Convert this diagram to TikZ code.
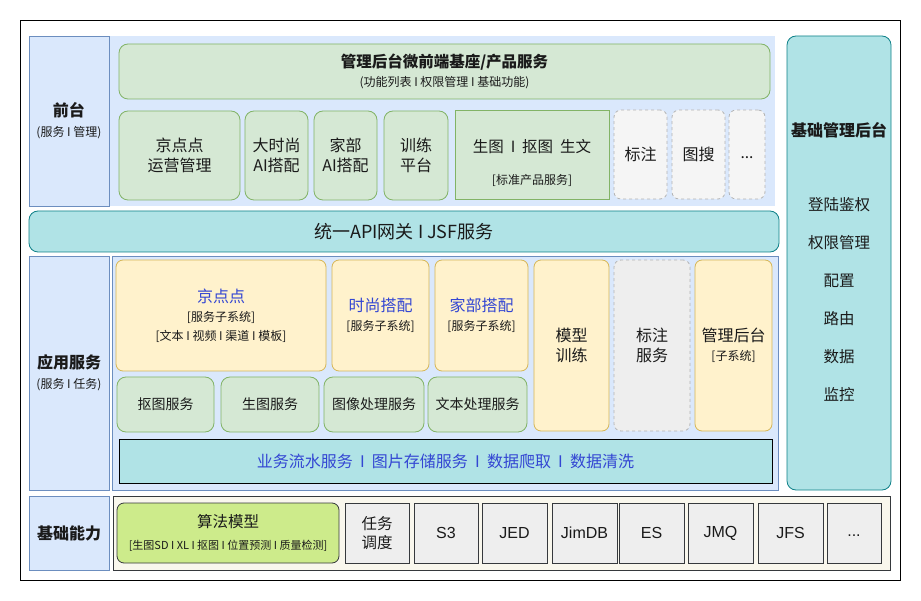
\documentclass[tikz,border=0pt]{standalone}
\usepackage{fontspec}
\setmainfont{Noto Sans CJK SC}
\newfontfamily\latinsf{Liberation Sans}
\definecolor{bluefill}{HTML}{DAE8FC}
\definecolor{blueline}{HTML}{6C8EBF}
\definecolor{greenfill}{HTML}{D5E8D4}
\definecolor{greenline}{HTML}{82B366}
\definecolor{tealfill}{HTML}{B0E3E6}
\definecolor{tealline}{HTML}{0E8088}
\definecolor{yellowfill}{HTML}{FFF2CC}
\definecolor{yellowline}{HTML}{D6B656}
\definecolor{greyfill}{HTML}{EEEEEE}
\definecolor{lightgrey}{HTML}{F5F5F5}
\definecolor{dashline}{HTML}{B3B3B3}
\definecolor{beige}{HTML}{F9F7ED}
\definecolor{darkline}{HTML}{36393D}
\definecolor{limefill}{HTML}{CDEB8B}
\definecolor{linkblue}{HTML}{3346D3}
\definecolor{ink}{HTML}{1A1A1A}
\newcommand{\txtXL}{\fontsize{18}{22}\selectfont}
\newcommand{\txtL}{\fontsize{16}{20}\selectfont}
\newcommand{\txtM}{\fontsize{15.5}{19}\selectfont}
\newcommand{\txtN}{\fontsize{14}{17}\selectfont}
\newcommand{\txtS}{\fontsize{12}{16}\selectfont}
\newcommand{\txtXS}{\fontsize{11}{14}\selectfont}
\tikzset{
  box/.style={inner sep=0pt, align=center, text=ink, font=\txtM, line width=0.8pt},
  layer/.style={box, fill=bluefill, draw=blueline},
  green/.style={box, fill=greenfill, draw=greenline, rounded corners=9pt},
  teal/.style={box, fill=tealfill, draw=tealline, rounded corners=9pt},
  yellow/.style={box, fill=yellowfill, draw=yellowline, rounded corners=7pt},
  dashbox/.style={box, fill=lightgrey, draw=dashline, dashed, rounded corners=7pt},
  infra/.style={box, fill=greyfill, draw=darkline, minimum width=65pt, minimum height=60pt,
                font=\latinsf\fontsize{16}{19}\selectfont},
  free/.style={inner sep=0pt, align=center, text=ink}
}
\begin{document}
\begin{tikzpicture}[x=1pt,y=-1pt]
\useasboundingbox (0,0) rectangle (921,601);
\node[draw=black, line width=1pt, minimum width=879.5pt, minimum height=559pt] (frame) at (460.25,300.5) {};

% left column
\node[layer, minimum width=80pt, minimum height=170pt] (qiantai) at (69,121)
     {{\txtL\bfseries 前台}\\[1pt]{\txtS (服务 I 管理)}};
\node[layer, minimum width=80pt, minimum height=234pt] (yingyong) at (69,373)
     {{\txtL\bfseries 应用服务}\\[1pt]{\txtS (服务 I 任务)}};
\node[layer, minimum width=80pt, minimum height=74pt] (jichu) at (69,533)
     {\txtL\bfseries 基础能力};

% front layer
\node[box, fill=bluefill, minimum width=665pt, minimum height=170pt] (front) at (442.5,121) {};
\node[green, minimum width=651pt, minimum height=55pt] (weiqian) at (444.5,71.5)
     {{\bfseries 管理后台微前端基座/产品服务}\\{\txtS (功能列表 I 权限管理 I 基础功能)}};
\node[green, font=\txtL, minimum width=121pt, minimum height=89pt] (jddyy) at (179.5,155.5) {京点点\\运营管理};
\node[green, font=\txtL, minimum width=63pt, minimum height=89pt] (dss) at (276.5,155.5) {大时尚\\AI搭配};
\node[green, font=\txtL, minimum width=63pt, minimum height=89pt] (jbai) at (345.5,155.5) {家部\\AI搭配};
\node[green, font=\txtL, minimum width=64pt, minimum height=89pt] (xlpt) at (416,155.5) {训练\\平台};
\node[box, fill=greenfill, draw=greenline, minimum width=154pt, minimum height=89pt] (biaozhun) at (532,154.5)
     {\rule{0pt}{30pt}生图 \ I \ 抠图 \ 生文\\[13pt]{\txtS [标准产品服务]}};
\node[dashbox, font=\txtL, minimum width=53pt, minimum height=89pt] (biaozhu) at (640.5,154.5) {标注};
\node[dashbox, font=\txtL, minimum width=53pt, minimum height=89pt] (tusou) at (698.5,154.5) {图搜};
\node[dashbox, minimum width=36pt, minimum height=89pt] (more1) at (747,154.5) {\strut...};

% right column
\node[teal, minimum width=104pt, minimum height=454pt] (guanli) at (839,263) {};
\node[free, font=\txtL\bfseries] (guanli-t) at (839,130) {基础管理后台};
\node[free, font=\fontsize{15.5}{38}\selectfont] (guanli-l) at (839,300)
     {登陆鉴权\\权限管理\\配置\\路由\\数据\\监控};

% gateway
\node[teal, font=\txtXL, minimum width=750pt, minimum height=41pt] (gateway) at (404,231.5) {统一API网关 I JSF服务};

% application layer
\node[layer, minimum width=666pt, minimum height=234pt] (app) at (445,373) {};
\node[yellow, minimum width=210pt, minimum height=111pt] (jdd) at (221,315.5)
     {{\txtL\color{linkblue}京点点}\\{\txtS [服务子系统]}\\{\txtS [文本 I 视频 I 渠道 I 模板]}};
\node[yellow, minimum width=97pt, minimum height=111pt] (ssdp) at (380.5,315.5)
     {{\txtL\color{linkblue}时尚搭配}\\{\txtS [服务子系统]}};
\node[yellow, minimum width=93pt, minimum height=111pt] (jbdp) at (481.5,315.5)
     {{\txtL\color{linkblue}家部搭配}\\{\txtS [服务子系统]}};
\node[yellow, font=\txtL, minimum width=75pt, minimum height=171pt] (mxxl) at (571.5,345.5) {模型\\训练};
\node[dashbox, font=\txtL, fill=greyfill, minimum width=76pt, minimum height=171pt] (bzfw) at (652,345.5) {标注\\服务};
\node[yellow, minimum width=77pt, minimum height=171pt] (glht) at (733.5,345.5)
     {{\txtL 管理后台}\\{\txtS [子系统]}};
\node[green, font=\txtN, minimum width=97pt, minimum height=55pt] (ktfw) at (165.5,404.5) {抠图服务};
\node[green, font=\txtN, minimum width=98pt, minimum height=55pt] (stfw) at (270,404.5) {生图服务};
\node[green, font=\txtN, minimum width=100pt, minimum height=55pt] (txcl) at (374,404.5) {图像处理服务};
\node[green, font=\txtN, minimum width=99pt, minimum height=55pt] (wbcl) at (477.5,404.5) {文本处理服务};
\node[box, font=\txtL, fill=tealfill, draw=black, minimum width=653pt, minimum height=44pt, text=linkblue] (yewu) at (445.5,461)
     {业务流水服务 \ I \ 图片存储服务 \ I \ 数据爬取 \ I \ 数据清洗};

% base layer
\node[box, fill=beige, draw=darkline, minimum width=777pt, minimum height=74pt] (base) at (501.5,533) {};
\node[box, fill=limefill, draw=darkline, rounded corners=7pt, minimum width=222pt, minimum height=60pt] (suanfa) at (228,533)
     {算法模型\\[3pt]{\txtXS [生图SD I XL I 抠图 I 位置预测 I 质量检测]}};
\node[infra, font=\txtM, minimum width=64pt] (rwdd) at (377,533) {任务\\调度};
\node[infra, minimum width=64pt] (s3) at (446,533) {S3};
\node[infra] (jed) at (514.5,533) {JED};
\node[infra] (jimdb) at (584.5,533) {JimDB};
\node[infra] (es) at (651.5,533) {ES};
\node[infra] (jmq) at (720.5,533) {JMQ};
\node[infra] (jfs) at (790.5,533) {JFS};
\node[infra, minimum width=54pt] (more2) at (854,533) {\strut...};
\end{tikzpicture}
\end{document}
